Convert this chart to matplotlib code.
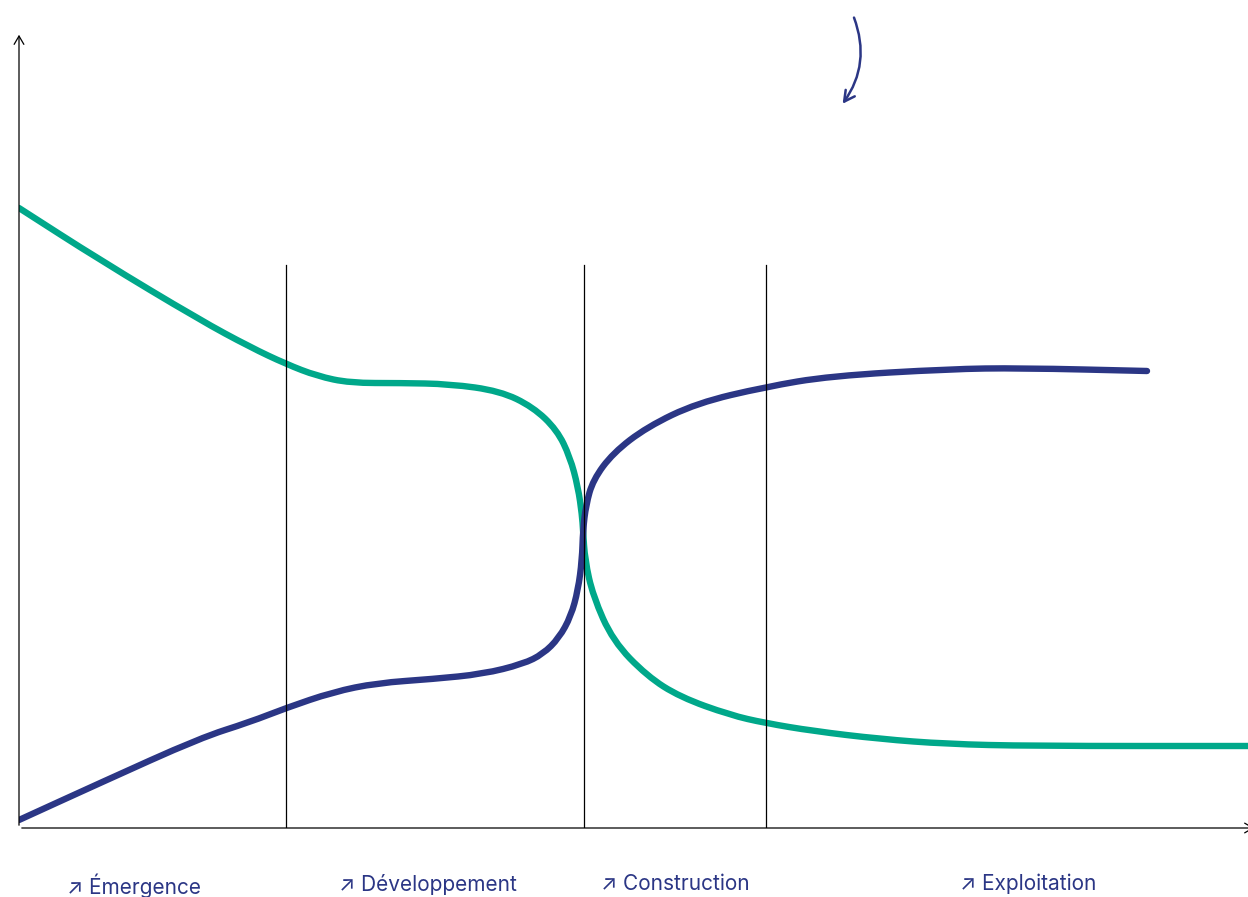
import numpy as np
import matplotlib.pyplot as plt
from matplotlib.path import Path
from matplotlib.patches import PathPatch

plt.rcParams['font.family'] = ['Inter', 'DejaVu Sans']

GREEN = '#00a88a'
BLUE = '#2b3685'

# courbes (unités = pixels depuis l'origine des axes)
vert_x = [0, 81, 181, 231, 267, 298, 331, 381, 431, 481, 514, 538, 551, 559, 563, 564,
          566, 574, 594, 628, 661, 711, 746, 794, 861, 928, 1011, 1229]
vert_y = [620, 568, 508, 481, 464, 452, 445, 445, 444, 437, 421, 398, 371, 341, 313, 298,
          268, 232, 187, 152, 131, 113, 105, 97, 89, 84, 82, 82]

bleu_x = [0, 81, 181, 231, 267, 314, 358, 414, 464, 504, 524, 540, 552, 559, 563, 564,
          567, 574, 594, 628, 678, 746, 811, 931, 1001, 1128]
bleu_y = [8, 45, 90, 106, 120, 136, 145, 149, 154, 164, 174, 190, 212, 238, 268, 298,
          323, 348, 375, 401, 425, 441, 452, 459, 460, 457]

# séparations des phases
phases_x = [267, 565, 747]
phases_top = 563

# libellés
labels = ['↗ Émergence', '↗ Développement', '↗ Construction', '↗ Exploitation']
labels_x = [48, 320, 582, 941]
labels_y = [-58, -56, -56, -56]


def smooth_path(xs, ys):
    pts = np.column_stack([xs, ys]).astype(float)
    verts = [pts[0], (pts[0] + pts[1]) / 2]
    codes = [Path.MOVETO, Path.LINETO]
    for i in range(1, len(pts) - 1):
        verts += [pts[i], (pts[i] + pts[i + 1]) / 2]
        codes += [Path.CURVE3, Path.CURVE3]
    verts.append(pts[-1])
    codes.append(Path.LINETO)
    return Path(verts, codes)


fig = plt.figure(figsize=(12.48, 8.97), dpi=100)
ax = fig.add_axes([19 / 1248, 69 / 897, 1229 / 1248, 798 / 897])
ax.set_xlim(0, 1229)
ax.set_ylim(0, 798)
ax.axis('off')

for x in phases_x:
    ax.plot([x, x], [0, phases_top], color='black', lw=0.9)

ax.add_patch(PathPatch(smooth_path(vert_x, vert_y), fill=False, edgecolor=GREEN,
                       lw=4.6, capstyle='round', joinstyle='round'))
ax.add_patch(PathPatch(smooth_path(bleu_x, bleu_y), fill=False, edgecolor=BLUE,
                       lw=4.6, capstyle='round', joinstyle='round'))

# axes avec flèches
ax.annotate('', xy=(0, 796), xytext=(0, 0), annotation_clip=False,
            arrowprops=dict(arrowstyle='->,head_length=0.6,head_width=0.35', color='black', lw=0.9))
ax.annotate('', xy=(1238, 0), xytext=(0, 0), annotation_clip=False,
            arrowprops=dict(arrowstyle='->,head_length=0.6,head_width=0.35', color='black', lw=0.9))

# flèche courbe
ax.annotate('', xy=(822, 722), xytext=(834, 813), annotation_clip=False,
            arrowprops=dict(arrowstyle='->,head_length=0.75,head_width=0.4', color=BLUE, lw=1.8,
                            connectionstyle='arc3,rad=-0.28'))

for t, x, y in zip(labels, labels_x, labels_y):
    ax.text(x, y, t, color=BLUE, fontsize=15, ha='left', va='center', clip_on=False)

fig.savefig('out.png', dpi=100)
